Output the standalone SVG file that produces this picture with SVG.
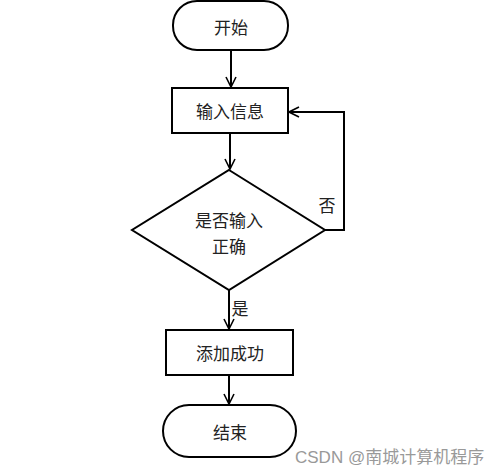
<svg xmlns="http://www.w3.org/2000/svg" width="499" height="474" viewBox="0 0 499 474">
<style>
.n{fill:#fff;stroke:#000;stroke-width:2}
.t{font-family:"Noto Sans CJK SC","Noto Sans",sans-serif;font-size:17px;fill:#222;text-anchor:middle;dominant-baseline:central}
.c{fill:none;stroke:#000;stroke-width:2}
</style>
<defs>
<marker id="a" viewBox="0 0 12 12" refX="11" refY="6" markerWidth="12" markerHeight="12" markerUnits="userSpaceOnUse" orient="auto">
<path d="M1,1 L11,6 L1,11" fill="none" stroke="#000" stroke-width="1.6"/>
</marker>
</defs>
<rect width="499" height="474" fill="#fff"/>
<g id="start"><rect class="n" x="173" y="1" width="115" height="49" rx="24"/><text class="t" x="231" y="26">开始</text></g>
<g id="input"><rect class="n" x="172" y="88" width="116" height="45"/><text class="t" x="230" y="110">输入信息</text></g>
<g id="check"><polygon class="n" points="229,170 325,230 229,290 132,230"/><text class="t" x="229" y="219">是否输入</text><text class="t" x="229" y="245">正确</text></g>
<g id="add"><rect class="n" x="166" y="330" width="127" height="45"/><text class="t" x="230" y="352">添加成功</text></g>
<g id="end"><rect class="n" x="163" y="405" width="133" height="52" rx="26"/><text class="t" x="230" y="431">结束</text></g>
<g id="connectors">
<path class="c" d="M231,50 V87" marker-end="url(#a)"/>
<path class="c" d="M230,133 V169" marker-end="url(#a)"/>
<path class="c" d="M325,230 H344 V112 H289" marker-end="url(#a)"/>
<path class="c" d="M229,290 V329" marker-end="url(#a)"/>
<path class="c" d="M229,375 V404" marker-end="url(#a)"/>
<text class="t" x="327" y="204">否</text>
<text class="t" x="240" y="307">是</text>
</g>
<text x="295" y="463" font-family="'Liberation Sans','Noto Sans CJK SC',sans-serif" font-size="17" fill="#999">CSDN @南城计算机程序</text>
</svg>
